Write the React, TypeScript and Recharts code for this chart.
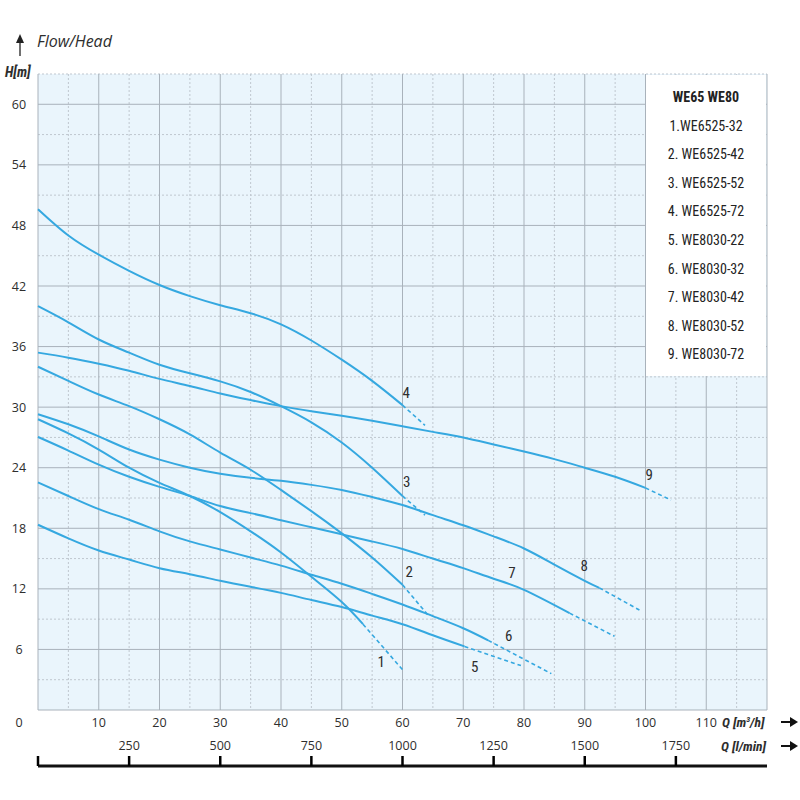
import React from 'react';
import { LineChart, Line, XAxis, YAxis, CartesianGrid, ReferenceDot } from 'recharts';

// Flow Q [m3/h] / head H [m] points, solid part and dashed tail of each pump curve
const curve1 = [
  { q: 0, h: 28.8 }, { q: 5, h: 27.4 }, { q: 10, h: 25.8 }, { q: 15, h: 24.0 }, { q: 20, h: 22.5 },
  { q: 25, h: 21.2 }, { q: 30, h: 19.6 }, { q: 35, h: 17.7 }, { q: 40, h: 15.6 }, { q: 45, h: 13.2 },
  { q: 50, h: 10.7 }, { q: 53.5, h: 8.5 },
];
const curve1Tail = [{ q: 53.5, h: 8.5 }, { q: 60, h: 4.0 }];

const curve2 = [
  { q: 0, h: 34.0 }, { q: 5, h: 32.6 }, { q: 10, h: 31.25 }, { q: 15, h: 30.1 }, { q: 20, h: 28.8 },
  { q: 25, h: 27.3 }, { q: 30, h: 25.5 }, { q: 35, h: 23.8 }, { q: 40, h: 21.8 }, { q: 45, h: 19.7 },
  { q: 50, h: 17.5 }, { q: 55, h: 15.1 }, { q: 60, h: 12.4 },
];
const curve2Tail = [{ q: 60, h: 12.4 }, { q: 64.2, h: 9.4 }];

const curve3 = [
  { q: 0, h: 40.0 }, { q: 5, h: 38.4 }, { q: 10, h: 36.7 }, { q: 15, h: 35.4 }, { q: 20, h: 34.2 },
  { q: 25, h: 33.35 }, { q: 30, h: 32.55 }, { q: 35, h: 31.5 }, { q: 40, h: 30.1 }, { q: 45, h: 28.5 },
  { q: 50, h: 26.5 }, { q: 55, h: 24.0 }, { q: 60, h: 21.2 },
];
const curve3Tail = [{ q: 60, h: 21.2 }, { q: 63.7, h: 19.3 }];

const curve4 = [
  { q: 0, h: 49.6 }, { q: 5, h: 47.0 }, { q: 10, h: 45.1 }, { q: 15, h: 43.5 }, { q: 20, h: 42.1 },
  { q: 25, h: 41.0 }, { q: 30, h: 40.1 }, { q: 35, h: 39.3 }, { q: 40, h: 38.2 }, { q: 45, h: 36.6 },
  { q: 50, h: 34.7 }, { q: 55, h: 32.6 }, { q: 60, h: 30.2 },
];
const curve4Tail = [{ q: 60, h: 30.2 }, { q: 63.7, h: 28.2 }];

const curve5 = [
  { q: 0, h: 18.35 }, { q: 5, h: 17.0 }, { q: 10, h: 15.8 }, { q: 15, h: 14.9 }, { q: 20, h: 14.05 },
  { q: 25, h: 13.45 }, { q: 30, h: 12.8 }, { q: 35, h: 12.2 }, { q: 40, h: 11.6 }, { q: 45, h: 10.9 },
  { q: 50, h: 10.2 }, { q: 55, h: 9.35 }, { q: 60, h: 8.5 }, { q: 65, h: 7.4 }, { q: 70.2, h: 6.3 },
];
const curve5Tail = [{ q: 70.2, h: 6.3 }, { q: 79.5, h: 4.4 }];

const curve6 = [
  { q: 0, h: 22.55 }, { q: 5, h: 21.2 }, { q: 10, h: 19.9 }, { q: 15, h: 18.85 }, { q: 20, h: 17.7 },
  { q: 25, h: 16.7 }, { q: 30, h: 15.9 }, { q: 35, h: 15.1 }, { q: 40, h: 14.3 }, { q: 45, h: 13.4 },
  { q: 50, h: 12.5 }, { q: 55, h: 11.5 }, { q: 60, h: 10.45 }, { q: 65, h: 9.3 }, { q: 70, h: 8.1 },
  { q: 74.1, h: 6.9 },
];
const curve6Tail = [{ q: 74.1, h: 6.9 }, { q: 84.5, h: 3.6 }];

const curve7 = [
  { q: 0, h: 27.05 }, { q: 5, h: 25.7 }, { q: 10, h: 24.3 }, { q: 15, h: 23.1 }, { q: 20, h: 22.1 },
  { q: 25, h: 21.2 }, { q: 30, h: 20.2 }, { q: 35, h: 19.5 }, { q: 40, h: 18.8 }, { q: 45, h: 18.1 },
  { q: 50, h: 17.4 }, { q: 55, h: 16.7 }, { q: 60, h: 15.95 }, { q: 65, h: 15.0 }, { q: 70, h: 14.05 },
  { q: 75, h: 13.0 }, { q: 80, h: 11.9 }, { q: 87.5, h: 9.6 },
];
const curve7Tail = [{ q: 87.5, h: 9.6 }, { q: 94.9, h: 7.3 }];

const curve8 = [
  { q: 0, h: 29.3 }, { q: 5, h: 28.3 }, { q: 10, h: 27.1 }, { q: 15, h: 25.8 }, { q: 20, h: 24.8 },
  { q: 25, h: 24.0 }, { q: 30, h: 23.4 }, { q: 35, h: 23.0 }, { q: 40, h: 22.7 }, { q: 45, h: 22.3 },
  { q: 50, h: 21.8 }, { q: 55, h: 21.1 }, { q: 60, h: 20.3 }, { q: 65, h: 19.3 }, { q: 70, h: 18.3 },
  { q: 75, h: 17.2 }, { q: 80, h: 16.0 }, { q: 85, h: 14.4 }, { q: 90, h: 12.8 }, { q: 92.4, h: 12.1 },
];
const curve8Tail = [{ q: 92.4, h: 12.1 }, { q: 99, h: 9.9 }];

const curve9 = [
  { q: 0, h: 35.4 }, { q: 5, h: 34.9 }, { q: 10, h: 34.3 }, { q: 15, h: 33.6 }, { q: 20, h: 32.8 },
  { q: 25, h: 32.1 }, { q: 30, h: 31.35 }, { q: 35, h: 30.7 }, { q: 40, h: 30.1 }, { q: 45, h: 29.6 },
  { q: 50, h: 29.15 }, { q: 55, h: 28.65 }, { q: 60, h: 28.1 }, { q: 65, h: 27.55 }, { q: 70, h: 27.0 },
  { q: 75, h: 26.3 }, { q: 80, h: 25.6 }, { q: 85, h: 24.85 }, { q: 90, h: 24.0 }, { q: 95, h: 23.1 },
  { q: 100, h: 22.0 },
];
const curve9Tail = [{ q: 100, h: 22.0 }, { q: 104.2, h: 20.8 }];

const curves = [curve1, curve2, curve3, curve4, curve5, curve6, curve7, curve8, curve9];
const tails = [curve1Tail, curve2Tail, curve3Tail, curve4Tail, curve5Tail, curve6Tail, curve7Tail, curve8Tail, curve9Tail];

// where the curve numbers sit (q, h)
const curveLabels = [
  { name: '1', q: 56.5, h: 4.75 },
  { name: '2', q: 61.1, h: 13.7 },
  { name: '3', q: 60.7, h: 22.6 },
  { name: '4', q: 60.6, h: 31.4 },
  { name: '5', q: 71.9, h: 4.3 },
  { name: '6', q: 77.5, h: 7.4 },
  { name: '7', q: 78.0, h: 13.6 },
  { name: '8', q: 89.9, h: 14.25 },
  { name: '9', q: 100.6, h: 23.3 },
];

const legendTitle = 'WE65  WE80';
const legendItems = [
  '1.WE6525-32', '2. WE6525-42', '3. WE6525-52', '4. WE6525-72', '5. WE8030-22',
  '6. WE8030-32', '7. WE8030-42', '8. WE8030-52', '9. WE8030-72',
];

const flowTicks = [0, 10, 20, 30, 40, 50, 60, 70, 80, 90, 100, 110];
const lminTicks = [0, 250, 500, 750, 1000, 1250, 1500, 1750];
const lminRange = [{ l: 0 }, { l: 2000 }];
const headTicks = [0, 6, 12, 18, 24, 30, 36, 42, 48, 54, 60];
const gridQMajor = [0, 10, 20, 30, 40, 50, 60, 70, 80, 90, 100, 110, 120];
const gridQMinor = [5, 15, 25, 35, 45, 55, 65, 75, 85, 95, 105, 115];
const gridHMajor = [0, 6, 12, 18, 24, 30, 36, 42, 48, 54, 60];
const gridHMinor = [3, 9, 15, 21, 27, 33, 39, 45, 51, 57, 63];

const LINE = '#35a8e0';
const TEXT = '#2e2e2e';
const FONT = "'Open Sans', 'Noto Sans', sans-serif";
const NARROW = "'Liberation Sans Narrow', 'Roboto Condensed', 'DejaVu Sans Condensed', 'Noto Sans', sans-serif";

const FlowTick = (props: any) => {
  const { x, y, payload } = props;
  return (
    <text x={payload.value === 0 ? x - 19 : x} y={y + 12} textAnchor="middle" dominantBaseline="central"
      fontSize={12.5} fill={TEXT} fontFamily={FONT}>
      {payload.value}
    </text>
  );
};

// l/min scale: the mark stands up from the bar, the label sits above it
const LminTick = (props: any) => {
  const { x, y, payload } = props;
  return (
    <g>
      <line x1={x} x2={x} y1={y - 10} y2={y} stroke="#000000" strokeWidth={2.5} strokeOpacity={1} />
      {payload.value > 0 && (
        <text x={x} y={y - 21} textAnchor="middle" dominantBaseline="central" fontSize={12.5} fill={TEXT} fontFamily={FONT}>
          {payload.value}
        </text>
      )}
    </g>
  );
};

const HeadTick = (props: any) => {
  const { x, y, payload } = props;
  if (payload.value === 0) return <g />;
  return (
    <text x={x - 19} y={y} textAnchor="middle" dominantBaseline="central" fontSize={12.5} fill={TEXT} fontFamily={FONT}>
      {payload.value}
    </text>
  );
};

export default function App() {
  return (
    <div style={{ position: 'absolute', left: 0, top: 0, width: 800, height: 800, background: '#fff' }}>
      <LineChart width={800} height={800} margin={{ top: 74, right: 33, bottom: 0, left: 0 }}>
        <CartesianGrid xAxisId="a" fill="#eaf5fc" fillOpacity={1} stroke="#bfc7cf" strokeDasharray="2 2"
          horizontalValues={gridHMinor} verticalValues={gridQMinor} />
        <CartesianGrid xAxisId="a" stroke="#a9b2bb" horizontalValues={gridHMajor} verticalValues={gridQMajor} />
        <XAxis xAxisId="a" type="number" dataKey="q" domain={[0, 120]} ticks={flowTicks} height={56}
          axisLine={false} tickLine={false} tickSize={0} tickMargin={0} tick={<FlowTick />} interval={0} />
        <XAxis xAxisId="b" type="number" dataKey="l" domain={[0, 2000]} ticks={lminTicks} height={34}
          axisLine={{ stroke: '#111', strokeWidth: 3 }} tickLine={false}
          tickSize={0} tickMargin={0} tick={<LminTick />} interval={0} />
        <YAxis type="number" domain={[0, 63]} ticks={headTicks} width={38} axisLine={false} tickLine={false}
          tickSize={0} tickMargin={0} tick={<HeadTick />} interval={0} />
        <Line xAxisId="b" data={lminRange} dataKey={() => 0} stroke="none" dot={false} activeDot={false}
          isAnimationActive={false} />
        {curves.map((c, i) => (
          <Line key={`c${i}`} xAxisId="a" data={c} dataKey="h" type="natural" stroke={LINE} strokeWidth={2}
            dot={false} activeDot={false} isAnimationActive={false} />
        ))}
        {tails.map((c, i) => (
          <Line key={`t${i}`} xAxisId="a" data={c} dataKey="h" type="linear" stroke={LINE} strokeWidth={1.6}
            strokeDasharray="4 3" dot={false} activeDot={false} isAnimationActive={false} />
        ))}
        {curveLabels.map((l) => (
          <ReferenceDot key={l.name} xAxisId="a" x={l.q} y={l.h} r={0} fill="none" stroke="none"
            label={{ value: l.name, position: 'center', fill: TEXT, fontSize: 15, fontFamily: NARROW }} />
        ))}
      </LineChart>

      <svg width={800} height={800} style={{ position: 'absolute', left: 0, top: 0, pointerEvents: 'none' }}>
        <line x1={20} x2={20} y1={56} y2={40} stroke="#222" strokeWidth={1.3} />
        <path d="M16,43 L20,34 L24,43 Z" fill="#222" />
        <text x={37} y={47} fontSize={16} fontStyle="italic" fill={TEXT} fontFamily={FONT}>Flow/Head</text>
        <text x={5} y={77} fontSize={14} fontStyle="italic" fontWeight="bold" fill={TEXT} fontFamily={NARROW}>H[m]</text>
        <text x={722} y={727} fontSize={13.5} fontStyle="italic" fontWeight="bold" fill={TEXT} fontFamily={NARROW}>
          Q [m<tspan dy={-5} fontSize={8}>3</tspan><tspan dy={5}>/h]</tspan>
        </text>
        <line x1={781} x2={792} y1={722} y2={722} stroke="#111" strokeWidth={2} />
        <path d="M790,717 L798,722 L790,727 Z" fill="#111" />
        <text x={721} y={751} fontSize={13.5} fontStyle="italic" fontWeight="bold" fill={TEXT} fontFamily={NARROW}>Q [l/min]</text>
        <line x1={781} x2={792} y1={746} y2={746} stroke="#111" strokeWidth={2} />
        <path d="M790,741 L798,746 L790,751 Z" fill="#111" />
      </svg>

      <div style={{
        position: 'absolute', left: 646, top: 75, width: 120, height: 301, background: '#fff',
        boxSizing: 'border-box', paddingTop: 8, textAlign: 'center', fontFamily: NARROW, color: '#222',
        fontSize: 14, lineHeight: '28.6px',
      }}>
        <div style={{ fontWeight: 'bold' }}>{legendTitle}</div>
        {legendItems.map((t) => <div key={t}>{t}</div>)}
      </div>
    </div>
  );
}
